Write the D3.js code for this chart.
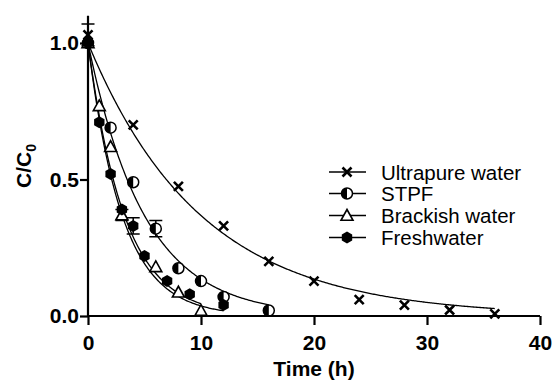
<!DOCTYPE html>
<html>
<head>
<meta charset="utf-8">
<script src="https://cdn.jsdelivr.net/npm/d3@7"></script>
<style>
  body { margin: 0; background: #fff; }
  svg text { font-family: Arial, "Liberation Sans", Helvetica, sans-serif; }
</style>
</head>
<body>
<div id="chart"></div>
<script>
// data
const seriesNames = ['Ultrapure water', 'STPF', 'Brackish water', 'Freshwater'];

const ultrapureTime = [0, 4, 8, 12, 16, 20, 24, 28, 32, 36];
const ultrapureC = [1.03, 0.70, 0.475, 0.33, 0.20, 0.128, 0.06, 0.04, 0.022, 0.008];
const ultrapureErr = [0.04, 0, 0, 0, 0, 0, 0, 0, 0, 0];

const stpfTime = [0, 2, 4, 6, 8, 10, 12, 16];
const stpfC = [1.0, 0.69, 0.49, 0.32, 0.175, 0.128, 0.07, 0.02];
const stpfErr = [0, 0, 0, 0.03, 0, 0, 0, 0];

const brackishTime = [0, 1, 2, 3, 6, 8, 10];
const brackishC = [1.0, 0.77, 0.62, 0.37, 0.18, 0.087, 0.02];
const brackishErr = [0, 0, 0, 0.02, 0, 0, 0];

const freshTime = [0, 1, 2, 3, 4, 5, 7, 9, 12];
const freshC = [1.0, 0.71, 0.52, 0.39, 0.33, 0.22, 0.128, 0.08, 0.04];
const freshErr = [0, 0, 0, 0, 0.03, 0, 0, 0, 0];

// first-order fit: rate constant (1/h) and end time of each fitted curve
const fitK = [0.1, 0.2, 0.31, 0.33];
const fitEnd = [36, 16, 10, 12];

const xTicks = [0, 10, 20, 30, 40];
const yTicks = [0, 0.5, 1.0];

const width = 554, height = 381;
const svg = d3.select('#chart').append('svg')
  .attr('width', width).attr('height', height);

const x = d3.scaleLinear().domain([0, 40]).range([88, 540]);
const y = d3.scaleLinear().domain([0, 1.1]).range([316, 15.7]);

// fitted curves
const line = d3.line().x(d => x(d[0])).y(d => y(d[1]));
fitK.forEach((k, i) => {
  const pts = d3.range(0, fitEnd[i] + 0.001, 0.1).map(t => [t, Math.exp(-k * t)]);
  svg.append('path').attr('d', line(pts))
    .attr('fill', 'none').attr('stroke', '#000').attr('stroke-width', 1.3);
});

// markers
function drawMarker(g, type, cx, cy) {
  if (type === 0) {
    const s = 4.5;
    g.append('path')
      .attr('d', `M${cx - s},${cy - s}L${cx + s},${cy + s}M${cx - s},${cy + s}L${cx + s},${cy - s}`)
      .attr('stroke', '#000').attr('stroke-width', 2.6).attr('fill', 'none');
  } else if (type === 1) {
    const r = 5.5;
    g.append('circle').attr('cx', cx).attr('cy', cy).attr('r', r)
      .attr('fill', '#fff').attr('stroke', '#000').attr('stroke-width', 1.5);
    g.append('path')
      .attr('d', `M${cx},${cy - r}A${r},${r} 0 0,0 ${cx},${cy + r}Z`)
      .attr('fill', '#000');
  } else if (type === 2) {
    const s = 6;
    g.append('path')
      .attr('d', `M${cx},${cy - s}L${cx + s},${cy + s * 0.8}L${cx - s},${cy + s * 0.8}Z`)
      .attr('fill', '#fff').attr('stroke', '#000').attr('stroke-width', 1.6);
  } else {
    const r = 6;
    const hex = d3.range(6).map(j => {
      const a = Math.PI / 6 + j * Math.PI / 3;
      return [cx + r * Math.cos(a), cy + r * Math.sin(a)];
    });
    g.append('path').attr('d', 'M' + hex.join('L') + 'Z').attr('fill', '#000');
  }
}

const allSeries = [
  [ultrapureTime, ultrapureC, ultrapureErr],
  [stpfTime, stpfC, stpfErr],
  [brackishTime, brackishC, brackishErr],
  [freshTime, freshC, freshErr]
];

// error bars
allSeries.forEach(([ts, cs, es]) => {
  ts.forEach((t, j) => {
    if (!es[j]) return;
    const px = x(t), y1 = y(cs[j] + es[j]), y2 = y(cs[j] - es[j]);
    svg.append('path')
      .attr('d', `M${px},${y1}L${px},${y2}M${px - 6.5},${y1}L${px + 6.5},${y1}M${px - 6.5},${y2}L${px + 6.5},${y2}`)
      .attr('stroke', '#000').attr('stroke-width', 1.5).attr('fill', 'none');
  });
});

allSeries.forEach(([ts, cs], i) => {
  const g = svg.append('g');
  ts.forEach((t, j) => drawMarker(g, i, x(t), y(cs[j])));
});

// axes
const xAxis = svg.append('g').attr('transform', `translate(0,${y(0)})`)
  .call(d3.axisBottom(x).tickValues(xTicks).tickSize(9).tickPadding(10).tickFormat(d3.format('d')));
const yAxis = svg.append('g').attr('transform', `translate(${x(0)},0)`)
  .call(d3.axisLeft(y).tickValues(yTicks).tickSize(8).tickPadding(1).tickFormat(d3.format('.1f')));
[xAxis, yAxis].forEach(a => {
  a.attr('font-family', null);
  a.select('.domain').attr('stroke-width', 2.2);
  a.selectAll('.tick line').attr('stroke-width', 2.2);
  a.selectAll('.tick text').attr('font-size', 21).attr('font-weight', 'bold').attr('fill', '#000');
});
xAxis.select('.domain').attr('d', `M${x(0)},0H${x(40)}`);
yAxis.select('.domain').attr('d', `M0,${y(0)}V${y(1.1)}`);

svg.append('text').attr('x', 314).attr('y', 376).attr('text-anchor', 'middle')
  .attr('font-size', 21).attr('font-weight', 'bold').text('Time (h)');

const yl = svg.append('text').attr('transform', 'translate(31,166) rotate(-90)')
  .attr('text-anchor', 'middle').attr('font-size', 21).attr('font-weight', 'bold');
yl.append('tspan').text('C/C');
yl.append('tspan').attr('font-size', 14).attr('dy', 5).text('0');

// legend
const legY = [172, 193.5, 215.5, 237.5];
seriesNames.forEach((name, i) => {
  const g = svg.append('g');
  g.append('line').attr('x1', 329).attr('x2', 366).attr('y1', legY[i]).attr('y2', legY[i])
    .attr('stroke', '#000').attr('stroke-width', 1.5);
  drawMarker(g, i, 347, legY[i]);
  g.append('text').attr('x', 381).attr('y', legY[i] + 7.5)
    .attr('font-size', 20.5).text(name);
});
</script>
</body>
</html>
